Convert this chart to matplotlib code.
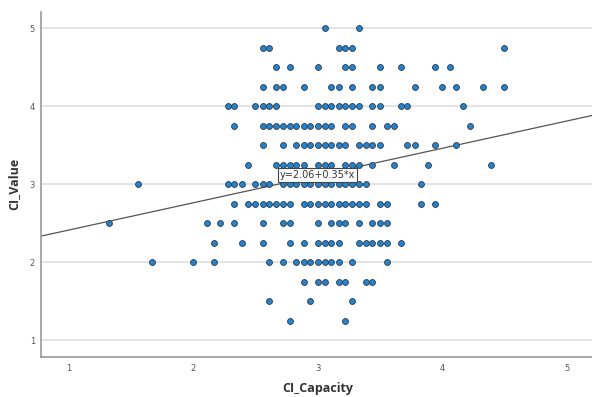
import matplotlib
matplotlib.use("Agg")
import matplotlib.pyplot as plt
import numpy as np

# Data: CI_Value levels and CI_Capacity values on each level
row_500 = [3.06, 3.33]
row_475 = [2.56, 2.61, 3.17, 3.22, 3.28, 4.50]
row_450 = [2.67, 2.78, 3.00, 3.22, 3.28, 3.50, 3.67, 3.94, 4.06]
row_425 = [2.56, 2.67, 2.72, 2.89, 3.11, 3.17, 3.28, 3.44, 3.50, 3.78, 4.00, 4.11, 4.33, 4.50]
row_400 = [2.28, 2.33, 2.50, 2.56, 2.61, 2.67, 3.00, 3.06, 3.11, 3.17, 3.22, 3.28, 3.33, 3.44, 3.50, 3.67, 3.72, 4.17]
row_375 = [2.33, 2.56, 2.61, 2.67, 2.72, 2.78, 2.83, 2.89, 2.94, 3.00, 3.06, 3.11, 3.22, 3.28, 3.44, 3.56, 3.61, 4.22]
row_350 = [2.56, 2.72, 2.83, 2.89, 2.94, 3.00, 3.06, 3.11, 3.17, 3.22, 3.33, 3.39, 3.44, 3.50, 3.72, 3.78, 3.94, 4.11]
row_325 = [2.44, 2.67, 2.72, 2.78, 2.83, 2.89, 3.00, 3.06, 3.11, 3.22, 3.28, 3.33, 3.44, 3.61, 3.89, 4.39]
row_300 = [1.56, 2.28, 2.33, 2.39, 2.50, 2.56, 2.61, 2.72, 2.78, 2.83, 2.89, 2.94, 3.00, 3.06, 3.11, 3.17, 3.22, 3.28, 3.33, 3.39, 3.83]
row_275 = [2.33, 2.44, 2.50, 2.56, 2.61, 2.67, 2.72, 2.78, 2.89, 2.94, 3.00, 3.06, 3.11, 3.17, 3.22, 3.28, 3.33, 3.39, 3.50, 3.56, 3.83, 3.94]
row_250 = [1.33, 2.11, 2.22, 2.33, 2.56, 2.72, 2.78, 3.00, 3.11, 3.17, 3.22, 3.33, 3.44, 3.50, 3.56]
row_225 = [2.17, 2.39, 2.56, 2.78, 2.89, 3.00, 3.06, 3.11, 3.17, 3.33, 3.39, 3.44, 3.50, 3.56, 3.67]
row_200 = [1.67, 2.00, 2.17, 2.61, 2.72, 2.83, 2.89, 2.94, 3.00, 3.06, 3.11, 3.17, 3.28, 3.56]
row_175 = [2.89, 3.00, 3.06, 3.17, 3.22, 3.39, 3.44]
row_150 = [2.61, 2.94, 3.28]
row_125 = [2.78, 3.22]

value_levels = [5.00, 4.75, 4.50, 4.25, 4.00, 3.75, 3.50, 3.25, 3.00, 2.75, 2.50, 2.25, 2.00, 1.75, 1.50, 1.25]
rows = [row_500, row_475, row_450, row_425, row_400, row_375, row_350, row_325,
        row_300, row_275, row_250, row_225, row_200, row_175, row_150, row_125]

fit_intercept = 2.06
fit_slope = 0.35
x_ticks = [1, 2, 3, 4, 5]
y_ticks = [1, 2, 3, 4, 5]

capacity = np.concatenate([np.array(r) for r in rows])
value = np.concatenate([np.full(len(r), v) for r, v in zip(rows, value_levels)])

fig = plt.figure(figsize=(5.92, 3.97), dpi=100)
ax = fig.add_axes([0.0698, 0.100, 0.9302, 0.8705])

xlim = (0.783, 5.203)
ylim = (0.778, 5.213)
ax.set_xlim(*xlim)
ax.set_ylim(*ylim)

for t in y_ticks:
    ax.axhline(t, color="#e2e2e2", lw=1.3, zorder=0)

ax.scatter(capacity, value, s=18, facecolor="#2483cc", edgecolor="#2b3a4a",
           linewidths=0.6, zorder=3)

xs = np.array(xlim)
ax.plot(xs, fit_intercept + fit_slope * xs, color="#555555", lw=0.9, zorder=2)

ax.text(3.0, 3.113, "y=2.06+0.35*x", ha="center", va="center", fontsize=7,
        color="#333333", zorder=5,
        bbox=dict(boxstyle="square,pad=0.2", facecolor="white", edgecolor="#444444", lw=0.8))

ax.set_xticks(x_ticks)
ax.set_yticks(y_ticks)
ax.tick_params(axis="both", length=0, labelsize=6, labelcolor="#555555")
ax.tick_params(axis="x", pad=5)
ax.tick_params(axis="y", pad=4.5)

for side in ["top", "right"]:
    ax.spines[side].set_visible(False)
for side in ["left", "bottom"]:
    ax.spines[side].set_color("#999999")
    ax.spines[side].set_linewidth(1.2)

ax.set_xlabel("CI_Capacity", fontsize=9, fontweight="bold", family="Open Sans", color="#333333")
ax.set_ylabel("CI_Value", fontsize=9, fontweight="bold", family="Open Sans", color="#333333")
ax.xaxis.set_label_coords(0.5 - (0.5 * 550.7 - (318 - 41.3)) / 550.7, -0.089)
ax.xaxis.label.set_va("center")
ax.yaxis.set_label_coords(-0.0496, 0.5 - (0.5 * 345.6 - (357.3 - 184)) / 345.6)
ax.yaxis.label.set_va("center")

fig.savefig("out.png", dpi=100)
